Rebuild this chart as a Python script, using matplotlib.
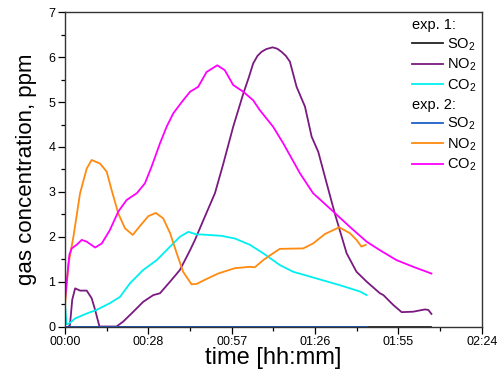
import matplotlib
matplotlib.use("Agg")
import matplotlib.pyplot as plt
from matplotlib.lines import Line2D
import numpy as np

plt.rcParams['font.family'] = ['Liberation Sans', 'DejaVu Sans']
plt.rcParams['mathtext.default'] = 'regular'

# ---- data (time in minutes, concentration in ppm) ----
# exp. 1
so2_1_t = [0, 126.6]
so2_1_v = [0, 0]
no2_1_t = [1.2, 1.7, 2.5, 3.5, 5.2, 7.5, 9.2, 10.4, 11.9, 17.8, 20.1, 23.6, 27, 30.5, 32.8,
           36.3, 39.7, 43.2, 44.9, 47.8, 51.8, 54.7, 58.1, 61.6, 63.5, 65, 66.5, 67.9, 69.5,
           71.7, 73.3, 74.8, 76.3, 77.7, 80, 82.9, 85.2, 87.5, 90.4, 93.2, 94.9, 97.3, 100.7,
           104.2, 108.8, 110, 113.4, 116.3, 120.3, 124.3, 125.5, 126.6]
no2_1_v = [0, 0.03, 0.6, 0.85, 0.80, 0.80, 0.63, 0.37, 0.0, 0.0, 0.11, 0.33, 0.55, 0.70, 0.74,
           1.0, 1.26, 1.70, 1.93, 2.37, 2.97, 3.63, 4.45, 5.19, 5.55, 5.86, 6.03, 6.12, 6.18,
           6.22, 6.19, 6.12, 6.03, 5.90, 5.34, 4.90, 4.23, 3.89, 3.19, 2.52, 2.15, 1.63, 1.22,
           1.0, 0.74, 0.70, 0.48, 0.32, 0.33, 0.38, 0.37, 0.28]
co2_1_t = [0, 0.5, 1.5, 3.5, 7.5, 10.9, 15.5, 19, 22.4, 27, 31.7, 36.3, 39.7, 42.6, 45.5,
           47.2, 54.1, 58.7, 63.9, 68.5, 74.2, 78.8, 86.9, 95, 101.9, 104.2]
co2_1_v = [0.5, 0.05, 0.07, 0.18, 0.29, 0.37, 0.52, 0.66, 0.96, 1.26, 1.48, 1.78, 2.0, 2.11, 2.05,
           2.05, 2.02, 1.96, 1.82, 1.63, 1.37, 1.22, 1.07, 0.92, 0.78, 0.70]
# exp. 2
so2_2_t = [0, 104.2]
so2_2_v = [0, 0]
no2_2_t = [0, 1.2, 2.9, 5.2, 7.5, 9.2, 12.1, 14.4, 16.1, 18.4, 20.7, 23.4, 25.9, 28.8, 31.4,
           33.9, 36.3, 38.6, 40.8, 43.7, 45.5, 48.3, 52.9, 58.7, 63.9, 65.6, 68.5, 71.4, 74.2,
           82.3, 85.7, 89.8, 94.7, 98.4, 100.7, 102.4, 103.9]
no2_2_v = [0.48, 1.4, 2.0, 2.97, 3.52, 3.71, 3.63, 3.45, 3.04, 2.52, 2.19, 2.04, 2.24, 2.46, 2.53,
           2.41, 2.08, 1.63, 1.22, 0.94, 0.95, 1.04, 1.18, 1.30, 1.33, 1.32, 1.48, 1.61, 1.73,
           1.74, 1.85, 2.06, 2.21, 2.08, 1.93, 1.78, 1.82]
co2_2_t = [0, 1.5, 2.3, 4, 5.8, 7.5, 10.4, 12.7, 15.5, 18.4, 21.3, 24.8, 27.6, 29.9, 32.8, 35.1,
           37.4, 40.8, 43.2, 46, 48.9, 52.6, 55.2, 58.1, 61.6, 65, 67.3, 71.9, 75.4, 81.2, 85.7,
           92.7, 98.4, 104.2, 108.8, 114.5, 120.3, 126.6]
co2_2_v = [0.6, 1.6, 1.74, 1.82, 1.93, 1.89, 1.76, 1.85, 2.15, 2.56, 2.82, 2.97, 3.19, 3.56, 4.08,
           4.45, 4.75, 5.04, 5.23, 5.34, 5.67, 5.82, 5.71, 5.38, 5.23, 5.04, 4.82, 4.45, 4.08,
           3.41, 2.97, 2.56, 2.22, 1.89, 1.70, 1.48, 1.33, 1.18]

xtick_labels = ["00:00", "00:28", "00:57", "01:26", "01:55", "02:24"]

# ---- plot ----
fig = plt.figure(figsize=(5.04, 3.79), dpi=100)
ax = fig.add_axes([0.129, 0.1385, 0.827, 0.829])

lw = 1.3
l_so2_1, = ax.plot(so2_1_t, so2_1_v, color='#222222', lw=lw)
l_no2_1, = ax.plot(no2_1_t, no2_1_v, color='#7a1a80', lw=lw)
l_co2_1, = ax.plot(co2_1_t, co2_1_v, color='#00f0f0', lw=lw)
l_so2_2, = ax.plot(so2_2_t, so2_2_v, color='#1f5fc8', lw=lw)
l_no2_2, = ax.plot(no2_2_t, no2_2_v, color='#ff8a10', lw=lw)
l_co2_2, = ax.plot(co2_2_t, co2_2_v, color='#ff00ff', lw=lw)

ax.set_xlim(0, 144)
ax.set_ylim(0, 7)
ax.set_xticks(np.linspace(0, 144, 6))
ax.set_xticklabels(xtick_labels)
ax.set_xticks(np.linspace(14.4, 129.6, 5), minor=True)
ax.set_yticks(range(8))
ax.set_yticks(np.arange(0.5, 7, 1), minor=True)
ax.tick_params(which='major', direction='out', length=5, width=0.9, labelsize=9, pad=2)
ax.tick_params(which='minor', direction='out', length=3, width=0.9)
for s in ax.spines.values():
    s.set_color('#333333')
    s.set_linewidth(1.0)

ax.set_xlabel("time [hh:mm]", fontsize=17, labelpad=-1)
ax.set_ylabel("gas concentration, ppm", fontsize=16, labelpad=8)

blank = Line2D([], [], color='none')
handles = [blank, l_so2_1, l_no2_1, l_co2_1, blank, l_so2_2, l_no2_2, l_co2_2]
labels = ["exp. 1:", "SO$_2$", "NO$_2$", "CO$_2$", "exp. 2:", "SO$_2$", "NO$_2$", "CO$_2$"]
leg = ax.legend(handles, labels, loc='upper right', frameon=False, fontsize=10.5,
                handlelength=2.1, handletextpad=0.25, labelspacing=0.28,
                borderaxespad=0.0, bbox_to_anchor=(1.0, 1.0))
# shift the header rows to the left so they start where the lines start
rows = leg._legend_handle_box.get_children()[0].get_children()
for i in (0, 4):
    rows[i].get_children()[0].width = 0
    rows[i].sep = 0

fig.savefig("out.png", dpi=100)
